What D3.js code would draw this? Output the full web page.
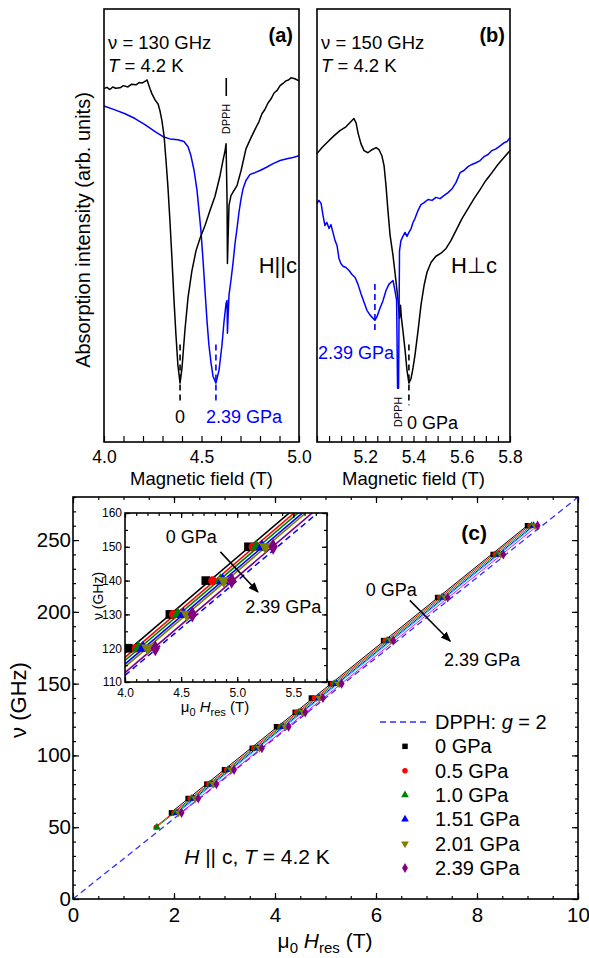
<!DOCTYPE html>
<html><head><meta charset="utf-8">
<script src="https://cdn.jsdelivr.net/npm/d3@7"></script>
<style>
body{margin:0;background:#fff}
svg{display:block}
text{font-family:"Liberation Sans",Arial,Helvetica,sans-serif;fill:#000}
</style></head>
<body><svg id="chart" width="589" height="958"></svg>
<script>
// ---------------- DATA ----------------
// Panel (a): 130 GHz, H||c  [field (T), absorption (arb.)]
const aBlack = [[4.000,81.6],[4.015,81.9],[4.030,81.4],[4.045,82.0],[4.060,81.7],[4.082,81.8],[4.100,82.3],[4.123,82.0],[4.140,82.6],[4.164,82.5],[4.180,83.0],[4.195,82.9],[4.210,83.3],[4.221,83.6],[4.236,81.6],[4.246,80.4],[4.262,79.0],[4.277,78.1],[4.287,76.5],[4.297,74.2],[4.308,70.7],[4.318,65.0],[4.328,58.8],[4.338,51.2],[4.349,41.9],[4.359,32.7],[4.369,24.7],[4.379,17.7],[4.390,13.6],[4.400,17.1],[4.415,25.8],[4.431,33.4],[4.451,39.6],[4.472,44.2],[4.492,47.0],[4.518,50.0],[4.544,53.5],[4.569,56.7],[4.595,61.5],[4.610,65.0],[4.621,67.3],[4.626,68.9],[4.631,55.8],[4.633,41.2],[4.636,46.5],[4.641,54.6],[4.651,56.9],[4.667,58.1],[4.682,59.2],[4.703,62.7],[4.728,67.7],[4.754,70.3],[4.779,72.6],[4.795,74.0],[4.810,75.8],[4.825,76.8],[4.841,78.3],[4.856,79.2],[4.872,80.6],[4.888,81.2],[4.903,82.3],[4.918,82.8],[4.933,83.4],[4.946,83.6],[4.959,84.1],[4.979,83.9],[5.000,83.4]];
const aBlue = [[4.000,77.6],[4.056,76.7],[4.108,75.8],[4.159,74.7],[4.210,73.3],[4.262,71.7],[4.303,70.5],[4.338,70.0],[4.379,69.8],[4.410,69.4],[4.431,68.2],[4.446,66.1],[4.462,62.7],[4.477,58.1],[4.487,53.5],[4.497,48.8],[4.508,41.9],[4.518,35.0],[4.528,28.1],[4.538,22.4],[4.549,18.2],[4.559,15.2],[4.574,13.6],[4.590,16.6],[4.605,22.4],[4.615,27.6],[4.626,32.0],[4.631,32.7],[4.633,25.1],[4.636,28.6],[4.641,33.9],[4.651,37.3],[4.662,41.5],[4.672,45.9],[4.682,49.3],[4.692,53.0],[4.703,56.2],[4.713,58.5],[4.728,60.4],[4.749,61.8],[4.774,62.2],[4.800,62.7],[4.831,63.4],[4.867,64.3],[4.903,65.0],[4.938,65.4],[4.969,65.7],[5.000,66.1]];
// Panel (b): 150 GHz, H perp c
const bBlack = [[5.000,66.6],[5.021,68.0],[5.046,69.4],[5.070,70.7],[5.095,71.9],[5.120,72.8],[5.141,74.0],[5.153,74.7],[5.162,73.7],[5.170,71.4],[5.182,68.9],[5.195,67.3],[5.211,66.8],[5.228,67.5],[5.245,68.0],[5.257,67.5],[5.269,66.1],[5.278,63.8],[5.286,59.2],[5.294,53.5],[5.303,47.7],[5.315,43.1],[5.327,37.3],[5.336,32.7],[5.342,28.6],[5.346,31.6],[5.350,28.6],[5.356,25.8],[5.365,21.2],[5.373,16.6],[5.381,13.6],[5.390,14.7],[5.398,17.1],[5.406,20.0],[5.419,25.8],[5.431,31.6],[5.444,36.2],[5.456,39.2],[5.473,41.5],[5.493,42.9],[5.514,43.6],[5.535,44.7],[5.555,46.5],[5.576,48.8],[5.601,51.6],[5.626,53.9],[5.651,56.2],[5.676,58.3],[5.700,60.4],[5.725,62.2],[5.750,64.1],[5.775,65.7],[5.800,67.3]];
const bBlue = [[5.000,55.1],[5.008,55.8],[5.017,55.1],[5.025,52.3],[5.033,50.0],[5.041,50.7],[5.050,49.3],[5.058,50.2],[5.066,48.4],[5.075,46.5],[5.083,45.4],[5.091,42.4],[5.099,41.2],[5.108,40.6],[5.120,40.3],[5.133,39.6],[5.145,38.7],[5.158,38.0],[5.170,36.4],[5.182,34.3],[5.195,32.3],[5.207,30.4],[5.220,29.3],[5.232,28.6],[5.240,28.1],[5.249,29.0],[5.261,30.9],[5.274,32.7],[5.286,35.0],[5.298,36.4],[5.307,36.9],[5.315,37.3],[5.323,35.0],[5.330,32.7],[5.334,12.4],[5.338,12.4],[5.342,44.2],[5.348,46.5],[5.356,47.5],[5.365,48.4],[5.373,47.5],[5.381,48.4],[5.390,49.3],[5.398,50.7],[5.406,51.6],[5.419,53.5],[5.431,54.8],[5.444,55.3],[5.460,56.0],[5.477,55.8],[5.493,56.5],[5.510,56.2],[5.526,56.9],[5.543,57.6],[5.560,58.5],[5.576,59.9],[5.593,62.2],[5.609,62.7],[5.626,63.6],[5.642,64.1],[5.659,64.5],[5.676,65.0],[5.692,65.9],[5.709,66.4],[5.725,67.3],[5.742,67.7],[5.759,68.4],[5.775,69.1],[5.788,69.4],[5.800,70.3]];
// resonance markers
const aResFields = [4.390, 4.574];   // 0, 2.39 GPa
const bResFields = [5.240, 5.381];   // 2.39 GPa, 0 GPa
const aDPPH = 4.627, bDPPH = 5.336;

// Panel (c): frequency-field diagram
const frequencies = [50, 60, 70, 80, 90, 105, 120, 130, 140, 150, 180, 210, 240, 260];
const pressures = ["0 GPa","0.5 GPa","1.0 GPa","1.51 GPa","2.01 GPa","2.39 GPa"];
const hRes0   = [null,1.95,2.28,2.65,3.00,3.55,4.03,4.40,4.72,5.10,6.15,7.22,8.32,9.00];
const hRes05  = [1.65,2.00,2.32,2.68,3.04,3.58,4.10,4.43,4.78,5.14,6.18,7.26,8.36,9.05];
const hRes10  = [1.66,2.02,2.35,2.71,3.07,3.62,4.12,4.47,4.85,5.17,6.22,7.30,8.40,9.08];
const hRes151 = [null,2.06,2.39,2.75,3.10,3.66,4.16,4.52,4.87,5.22,6.26,7.34,8.44,9.12];
const hRes201 = [null,2.09,2.42,2.78,3.13,3.69,4.20,4.55,4.88,5.25,6.29,7.37,8.47,9.15];
const hRes239 = [null,2.15,2.48,2.84,3.19,3.74,4.27,4.60,4.95,5.32,6.34,7.42,8.52,9.20];
const dpphG = 2;
const muBoverH = 13.996; // GHz/T

const aTickLabels = ["4.0","4.5","5.0"];
const bTickLabels = ["5.2","5.4","5.6","5.8"];
const cXTicks = [0,2,4,6,8,10];
const cYTicks = [0,50,100,150,200,250];
const iXTicks = [4.0,4.5,5.0,5.5];
const iYTicks = [110,120,130,140,150,160];

// ---------------- STYLE ----------------
const markerColors = ["#000000","#ff0000","#008000","#0000ff","#808000","#800080"];
const mainLineColors = ["#000000","#ff0000","#00a000","#0000ff","#00c8ff","#ff00ff"];
const insetLineColors = ["#000000","#ff0000","#008000","#0000ff","#808000","#800080"];
const symbols = [d3.symbolSquare,d3.symbolCircle,d3.symbolTriangle,d3.symbolTriangle,d3.symbolTriangle,d3.symbolDiamond];
const symRot = [0,0,0,0,180,0];

const svg = d3.select("#chart");
svg.append("rect").attr("width",589).attr("height",958).attr("fill","#fff");

// ---------------- PANELS (a),(b) ----------------
const PY = [9, 442];
const xA = d3.scaleLinear().domain([4.0,5.0]).range([104,299]);
const xB = d3.scaleLinear().domain([5.0,5.8]).range([317,510]);
const yS = d3.scaleLinear().domain([0,100]).range([PY[1],PY[0]]);

function spectrumPanel(x, curves, minor, labels){
  const g = svg.append("g");
  const [x0,x1] = x.range();
  const ax = d3.axisBottom(x).tickValues(minor).tickSize(-6).tickPadding(9)
     .tickFormat(d => { const s=d.toFixed(1); return (labels.includes(s) && Math.abs(d*10-Math.round(d*10))<1e-6) ? s : ""; });
  const axg = g.append("g").attr("transform",`translate(0,${PY[1]})`).call(ax);
  axg.select(".domain").remove();
  axg.selectAll("line").attr("stroke","#000").attr("stroke-width",1.2);
  axg.selectAll("text").attr("font-size",17.5).attr("font-family",'"Liberation Sans",Arial,sans-serif').attr("fill","#000");
  const line = d3.line().x(d=>x(d[0])).y(d=>yS(d[1]));
  curves.forEach(c=>{
    g.append("path").datum(c.data).attr("d",line).attr("fill","none")
     .attr("stroke",c.color).attr("stroke-width",1.5).attr("stroke-linejoin","round");
  });
  g.append("rect").attr("x",x0).attr("y",PY[0]).attr("width",x1-x0).attr("height",PY[1]-PY[0])
   .attr("fill","none").attr("stroke","#000").attr("stroke-width",1.6);
  g.append("text").attr("x",(x0+x1)/2).attr("y",485).attr("text-anchor","middle").attr("font-size",18.5).text("Magnetic field (T)");
  return g;
}
const gA = spectrumPanel(xA,[{data:aBlue,color:"#0000ff"},{data:aBlack,color:"#000"}], d3.range(0,11).map(i=>4+i*0.1), aTickLabels);
const gB = spectrumPanel(xB,[{data:bBlack,color:"#000"},{data:bBlue,color:"#0000ff"}], d3.range(0,17).map(i=>5+i*0.05), bTickLabels);

function infoText(g, x, nu, tag, tagX){
  g.append("text").attr("x",x).attr("y",49).attr("font-size",18.5).text(`ν = ${nu} GHz`);
  const t2 = g.append("text").attr("x",x).attr("y",72).attr("font-size",18.5);
  t2.append("tspan").attr("font-style","italic").text("T");
  t2.append("tspan").text(" = 4.2 K");
  g.append("text").attr("x",tagX).attr("y",42).attr("font-size",20).attr("font-weight","bold").attr("text-anchor","end").text(tag);
}
infoText(gA,108,130,"(a)",293);
infoText(gB,321,150,"(b)",505);

function resMark(g, x, f, y0, y1, color){
  g.append("line").attr("x1",x(f)).attr("x2",x(f)).attr("y1",yS(y0)).attr("y2",yS(y1))
   .attr("stroke",color).attr("stroke-width",1.6).attr("stroke-dasharray","6,4");
}
resMark(gA,xA,aResFields[0],22.5,9.5,"#000");
resMark(gA,xA,aResFields[1],22.5,9.5,"#0000ff");
resMark(gB,xB,bResFields[0],36.5,25,"#0000ff");
resMark(gB,xB,bResFields[1],22.5,8.5,"#000");

gA.append("text").attr("x",xA(aResFields[0])).attr("y",yS(4.5)).attr("text-anchor","middle").attr("font-size",18).text("0");
gA.append("text").attr("x",xA(aResFields[1])-10).attr("y",yS(4.5)).attr("font-size",18).style("fill","#0000ff").text("2.39 GPa");
gA.append("text").attr("x",297).attr("y",273).attr("text-anchor","end").attr("font-size",22).text("H||c");
gA.append("line").attr("x1",xA(aDPPH)).attr("x2",xA(aDPPH)).attr("y1",78).attr("y2",96).attr("stroke","#000").attr("stroke-width",1.6);
gA.append("text").attr("transform",`translate(${xA(aDPPH)+4},${119}) rotate(-90)`).attr("text-anchor","middle").attr("font-size",11).text("DPPH");
gB.append("text").attr("x",318).attr("y",359).attr("font-size",18).style("fill","#0000ff").text("2.39 GPa");
gB.append("text").attr("x",407).attr("y",429).attr("font-size",18).text("0 GPa");
gB.append("text").attr("x",497).attr("y",273).attr("text-anchor","end").attr("font-size",22).text("H⊥c");
gB.append("text").attr("transform",`translate(${xB(bDPPH)+4},${412}) rotate(-90)`).attr("text-anchor","middle").attr("font-size",11).text("DPPH");

svg.append("text").attr("transform","translate(90,230) rotate(-90)").attr("text-anchor","middle").attr("font-size",20).text("Absorption intensity (arb. units)");

// ---------------- PANEL (c) ----------------
const CX = [73,578], CY = [899,497];
const xC = d3.scaleLinear().domain([0,10]).range(CX);
const yC = d3.scaleLinear().domain([0,280]).range(CY);
const gC = svg.append("g");

const seriesH = [hRes0,hRes05,hRes10,hRes151,hRes201,hRes239];
const series = seriesH.map((hs,i)=>({
  name: pressures[i],
  pts: hs.map((h,j)=> h==null?null:[h,frequencies[j]]).filter(d=>d)
}));
series.forEach(s=>{
  const mx=d3.mean(s.pts,d=>d[0]), my=d3.mean(s.pts,d=>d[1]);
  const b=d3.sum(s.pts,d=>(d[0]-mx)*(d[1]-my))/d3.sum(s.pts,d=>(d[0]-mx)**2);
  s.b=b; s.a=my-b*mx; s.hmin=d3.min(s.pts,d=>d[0]); s.hmax=d3.max(s.pts,d=>d[0]);
});

function frameAxes(g, x, y, majX, minX, majY, minY, maj, mn, fs, padX, padY, fmtX, fmtY){
  const [x0,x1]=x.range(), [y0,y1]=y.range();
  const mk=(axis,tr,vals,size,fmt,pad)=>{
    const a=g.append("g").attr("transform",tr).call(axis.tickValues(vals).tickSize(-size).tickPadding(pad||3).tickFormat(fmt||(()=>"")));
    a.select(".domain").remove();
    a.selectAll("line").attr("stroke","#000").attr("stroke-width",1.2);
    a.selectAll("text").attr("font-size",fs).attr("font-family",'"Liberation Sans",Arial,sans-serif').attr("fill","#000");
  };
  mk(d3.axisBottom(x),`translate(0,${y0})`,minX,mn);
  mk(d3.axisBottom(x),`translate(0,${y0})`,majX,maj,fmtX,padX);
  mk(d3.axisTop(x),`translate(0,${y1})`,minX,mn);
  mk(d3.axisTop(x),`translate(0,${y1})`,majX,maj);
  mk(d3.axisLeft(y),`translate(${x0},0)`,minY,mn);
  mk(d3.axisLeft(y),`translate(${x0},0)`,majY,maj,fmtY,padY);
  mk(d3.axisRight(y),`translate(${x1},0)`,minY,mn);
  mk(d3.axisRight(y),`translate(${x1},0)`,majY,maj);
  g.append("rect").attr("x",x0).attr("y",y1).attr("width",x1-x0).attr("height",y0-y1)
   .attr("fill","none").attr("stroke","#000").attr("stroke-width",1.6);
}

const dpphLine = d3.line().x(d=>xC(d)).y(d=>yC(dpphG*muBoverH*d));
gC.append("path").datum([0,10]).attr("d",dpphLine).attr("fill","none").attr("stroke","#3030ff")
  .attr("stroke-width",1.3).attr("stroke-dasharray","6,4");
series.forEach((s,i)=>{
  gC.append("line").attr("x1",xC(s.hmin)).attr("y1",yC(s.a+s.b*s.hmin)).attr("x2",xC(s.hmax)).attr("y2",yC(s.a+s.b*s.hmax))
   .attr("stroke",mainLineColors[i]).attr("stroke-width",1);
});
const symArea=[30,24,26,26,26,30];
series.forEach((s,i)=>{
  gC.selectAll(null).data(s.pts).enter().append("path")
   .attr("d",d3.symbol().type(symbols[i]).size(symArea[i]))
   .attr("transform",d=>`translate(${xC(d[0])},${yC(d[1])}) rotate(${symRot[i]})`)
   .attr("fill",markerColors[i]);
});
frameAxes(gC,xC,yC,cXTicks,d3.range(0,10.01,0.5),cYTicks,d3.range(0,281,10),6,3,20.5,8,2,d=>d3.format("d")(d),d=>d3.format("d")(d));

gC.append("text").attr("transform","translate(26,700) rotate(-90)").attr("text-anchor","middle").attr("font-size",22).text("ν (GHz)");
const xt = gC.append("text").attr("x",325).attr("y",948).attr("text-anchor","middle").attr("font-size",21);
xt.append("tspan").text("μ");
xt.append("tspan").attr("font-size",15).attr("dy",5).text("0");
xt.append("tspan").attr("dy",-5).text(" ");
xt.append("tspan").attr("font-style","italic").text("H");
xt.append("tspan").attr("font-size",15).attr("dy",5).text("res");
xt.append("tspan").attr("dy",-5).text(" (T)");

gC.append("text").attr("x",487).attr("y",540).attr("text-anchor","end").attr("font-size",21).attr("font-weight","bold").text("(c)");
const defs = svg.append("defs");
defs.append("marker").attr("id","ah").attr("viewBox","0 0 10 10").attr("refX",9).attr("refY",5)
  .attr("markerWidth",7).attr("markerHeight",7).attr("orient","auto")
  .append("path").attr("d","M0,1 L10,5 L0,9 Z").attr("fill","#000");
gC.append("line").attr("x1",xC(6.67)).attr("y1",yC(208)).attr("x2",xC(7.47)).attr("y2",yC(179.5))
  .attr("stroke","#000").attr("stroke-width",1.5).attr("marker-end","url(#ah)");
gC.append("text").attr("x",xC(6.3)).attr("y",yC(211)).attr("text-anchor","middle").attr("font-size",18).text("0 GPa");
gC.append("text").attr("x",xC(8.1)).attr("y",yC(162)).attr("text-anchor","middle").attr("font-size",18).text("2.39 GPa");

const hc = gC.append("text").attr("x",257).attr("y",864).attr("text-anchor","middle").attr("font-size",21);
hc.append("tspan").attr("font-style","italic").text("H");
hc.append("tspan").text(" || c, ");
hc.append("tspan").attr("font-style","italic").text("T");
hc.append("tspan").text(" = 4.2 K");

const legY = d3.scaleLinear().domain([0,6]).range([722,868]);
gC.append("line").attr("x1",380).attr("x2",429).attr("y1",legY(0)).attr("y2",legY(0))
  .attr("stroke","#3030ff").attr("stroke-width",1.3).attr("stroke-dasharray","6,4");
const lt = gC.append("text").attr("x",435).attr("y",legY(0)+7).attr("font-size",20);
lt.append("tspan").text("DPPH: ");
lt.append("tspan").attr("font-style","italic").text("g");
lt.append("tspan").text(" = 2");
pressures.forEach((p,i)=>{
  gC.append("path").attr("d",d3.symbol().type(symbols[i]).size(symArea[i]))
    .attr("transform",`translate(405,${legY(i+1)}) rotate(${symRot[i]})`).attr("fill",markerColors[i]);
  gC.append("text").attr("x",435).attr("y",legY(i+1)+7).attr("font-size",20).text(p);
});

// ---------------- INSET ----------------
const xI = d3.scaleLinear().domain([4.0,5.8]).range([125,327]);
const yI = d3.scaleLinear().domain([110,160]).range([682,513]);
const gI = svg.append("g");
gI.append("rect").attr("x",125).attr("y",513).attr("width",202).attr("height",169).attr("fill","#fff");
defs.append("clipPath").attr("id","ic").append("rect").attr("x",125).attr("y",513).attr("width",202).attr("height",169);
const gIc = gI.append("g").attr("clip-path","url(#ic)");
gIc.append("path").datum([4.0,5.8]).attr("d",d3.line().x(d=>xI(d)).y(d=>yI(dpphG*muBoverH*d)))
  .attr("fill","none").attr("stroke","#0000ff").attr("stroke-width",1.5).attr("stroke-dasharray","6,4");
series.forEach((s,i)=>{
  gIc.append("line").attr("x1",xI(4.0)).attr("y1",yI(s.a+s.b*4.0)).attr("x2",xI(5.8)).attr("y2",yI(s.a+s.b*5.8))
   .attr("stroke",insetLineColors[i]).attr("stroke-width",1.6);
});
const insetArea=[75,60,70,70,70,75];
series.forEach((s,i)=>{
  gIc.selectAll(null).data(s.pts.filter(d=>d[1]>=110&&d[1]<=160)).enter().append("path")
   .attr("d",d3.symbol().type(symbols[i]).size(insetArea[i]))
   .attr("transform",d=>`translate(${xI(d[0])},${yI(d[1])}) rotate(${symRot[i]})`)
   .attr("fill",markerColors[i]);
});
frameAxes(gI,xI,yI,iXTicks,d3.range(4.0,5.81,0.1),iYTicks,d3.range(110,160.1,5),5,3,12,6,3,d=>d3.format(".1f")(d),d=>d3.format("d")(d));
gI.append("text").attr("transform","translate(103,596) rotate(-90)").attr("text-anchor","middle").attr("font-size",14).text("ν (GHz)");
const it = gI.append("text").attr("x",215).attr("y",712).attr("text-anchor","middle").attr("font-size",15);
it.append("tspan").text("μ");
it.append("tspan").attr("font-size",11).attr("dy",4).text("0");
it.append("tspan").attr("dy",-4).text(" ");
it.append("tspan").attr("font-style","italic").text("H");
it.append("tspan").attr("font-size",11).attr("dy",4).text("res");
it.append("tspan").attr("dy",-4).text(" (T)");
gI.append("line").attr("x1",xI(4.85)).attr("y1",yI(148.5)).attr("x2",xI(5.185)).attr("y2",yI(136.6))
  .attr("stroke","#000").attr("stroke-width",1.5).attr("marker-end","url(#ah)");
gI.append("text").attr("x",xI(4.59)).attr("y",yI(151)).attr("text-anchor","middle").attr("font-size",18).text("0 GPa");
gI.append("text").attr("x",xI(5.41)).attr("y",yI(130.4)).attr("text-anchor","middle").attr("font-size",18).text("2.39 GPa");
</script>
</body></html>
